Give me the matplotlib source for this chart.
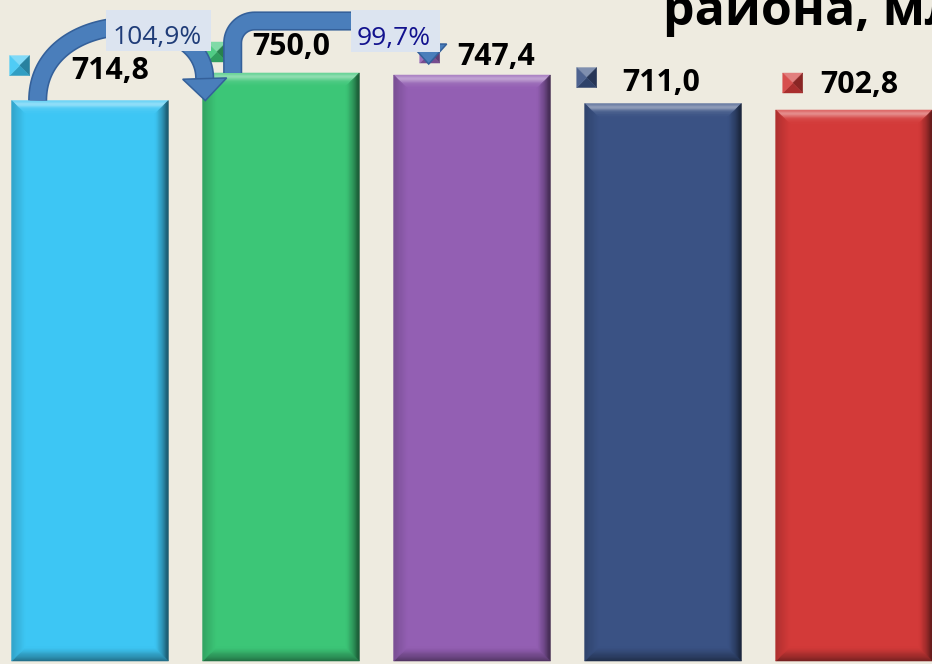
import numpy as np
import matplotlib
matplotlib.use("Agg")
from matplotlib import pyplot as plt
from matplotlib.patches import Polygon
import matplotlib.patheffects as pe
from matplotlib.colors import to_rgb

values = [714.8, 750.0, 747.4, 711.0, 702.8]
value_labels = ["714,8", "750,0", "747,4", "711,0", "702,8"]
bar_colors = ["#3DC6F4", "#3CC677", "#935FB3", "#3A5284", "#D33A39"]
growth_labels = ["104,9%", "99,7%"]
growth_colors = ["#1F3C78", "#12128E"]
title_part = "района, мл"

# label layout in pixels from the bar's top-left corner (x right, y up)
marker_off = [(8, 35), (14, 21), (36, 22), (2, 26), (17, 27)]
text_off = [(60, 22), (50, 18), (64, 10), (38, 13), (45, 17)]

BG = "#EEEBE0"
ARROW = "#4A7EBB"
ARROW_EDGE = "#34609A"
BOX = "#DCE4F0"
W, H = 932, 664

fig = plt.figure(figsize=(W / 100, H / 100), dpi=100)
fig.patch.set_facecolor(BG)
ax = fig.add_axes([0, 0, 1, 1])
ax.set_facecolor(BG)
ax.axis("off")
ax.set_xlim(-0.471, 4.408)
ax.set_ylim(-3.83, 843.1)

x = np.arange(len(values))
bars = ax.bar(x, values, width=0.82, color=bar_colors, edgecolor="none", zorder=2)


def to_px(xd, yd):
    X, Y = ax.transData.transform((xd, yd))
    return X, H - Y


def to_data(pts):
    pts = np.asarray(pts, float)
    disp = np.column_stack([pts[:, 0], H - pts[:, 1]])
    return ax.transData.inverted().transform(disp)


def mix(c, other, t):
    c = np.array(to_rgb(c))
    o = np.array(to_rgb(other))
    return tuple(np.clip(c * (1 - t) + o * t, 0, 1))


def shade(color, side, t):
    # t goes 0 (outer edge) -> 1 (inner edge of the bevel)
    if side == "top":
        glow = 0.2 + 0.3 * np.exp(-((t - 0.3) / 0.2) ** 2) - 0.2 * t
        return mix(color, "white", max(glow, 0))
    if side == "right":
        return mix(color, "black", 0.6 * (1 - t) ** 1.3)
    if side == "bottom":
        return mix(color, "black", 0.45 * (1 - t) ** 1.2)
    return mix(color, "black", 0.18 * (1 - t))


def bevel(rect, color, depth=14, steps=12):
    L, T = to_px(rect.get_x(), rect.get_height())
    R, B = to_px(rect.get_x() + rect.get_width(), 0)
    for k in range(steps):
        a = depth * k / steps
        b = depth * (k + 1) / steps
        t = (k + 0.5) / steps
        o = (L + a, T + a, R - a, B - a)
        i = (L + b, T + b, R - b, B - b)
        quads = {
            "top": [(o[0], o[1]), (o[2], o[1]), (i[2], i[1]), (i[0], i[1])],
            "right": [(o[2], o[1]), (o[2], o[3]), (i[2], i[3]), (i[2], i[1])],
            "bottom": [(o[2], o[3]), (o[0], o[3]), (i[0], i[3]), (i[2], i[3])],
            "left": [(o[0], o[3]), (o[0], o[1]), (i[0], i[1]), (i[0], i[3])],
        }
        for side, q in quads.items():
            f = shade(color, side, t)
            ax.add_patch(Polygon(to_data(q), closed=True, fc=f, ec=f, lw=0.4, zorder=3))


def marker(cx, cy, color, h=10):
    tl, tr, br, bl, c = (cx - h, cy - h), (cx + h, cy - h), (cx + h, cy + h), (cx - h, cy + h), (cx, cy)
    tris = [((tl, tr, c), mix(color, "white", 0.35)),
            ((tr, br, c), mix(color, "black", 0.35)),
            ((br, bl, c), mix(color, "black", 0.2)),
            ((bl, tl, c), mix(color, "white", 0.1))]
    for tri, f in tris:
        ax.add_patch(Polygon(to_data(tri), closed=True, fc=f, ec=f, lw=0.3, zorder=4))


def draw_arrow(body, head_w, head_len):
    body = np.asarray(body, float)
    d = body[-1] - body[-2]
    d = d / np.hypot(*d)
    n = np.array([-d[1], d[0]])
    base = body[-1]
    head = [base + n * head_w, base + d * head_len, base - n * head_w]
    xy = to_data(body)
    ax.plot(xy[:, 0], xy[:, 1], color=ARROW, lw=11.5, solid_capstyle="butt",
            solid_joinstyle="round", zorder=6,
            path_effects=[pe.Stroke(linewidth=13.8, foreground=ARROW_EDGE), pe.Normal()])
    ax.add_patch(Polygon(to_data(head), closed=True, fc=ARROW, ec=ARROW_EDGE,
                         lw=1.1, zorder=6.1))
    return base + d * head_len


def growth_box(cx, cy, w, h, label, color):
    corners = [(cx - w / 2, cy - h / 2), (cx + w / 2, cy - h / 2),
               (cx + w / 2, cy + h / 2), (cx - w / 2, cy + h / 2)]
    ax.add_patch(Polygon(to_data(corners), closed=True, fc=BOX, ec="none", zorder=7))
    tx, ty = to_data([(cx - 1.5, cy + h / 2 - 7)])[0]
    ax.text(tx, ty, label, ha="center", va="baseline", fontsize=19,
            family="Open Sans", color=color, zorder=8)


for i, rect in enumerate(bars):
    bevel(rect, bar_colors[i])
    L, T = to_px(rect.get_x(), rect.get_height())
    marker(L + marker_off[i][0], T - marker_off[i][1], bar_colors[i])
    tx, ty = to_data([(L + text_off[i][0], T - text_off[i][1])])[0]
    ax.text(tx, ty, value_labels[i], ha="left", va="baseline", fontsize=21.8,
            fontweight="bold", family="Open Sans", color="black", zorder=5)

tops = [to_px(r.get_x(), r.get_height()) for r in bars]

# arrow 1: arc from first bar over to the second one
L0, T0 = tops[0]
L1, T1 = tops[1]
p0 = np.array([L0 + 26, T0])
p3 = np.array([L1 + 2, T0 - 22])
p1 = np.array([p0[0], T0 - 95])
p2 = np.array([p3[0], T0 - 95])
t = np.linspace(0, 1, 80)[:, None]
curve = (1 - t) ** 3 * p0 + 3 * (1 - t) ** 2 * t * p1 + 3 * (1 - t) * t ** 2 * p2 + t ** 3 * p3
tip1 = draw_arrow(curve, 22, 22)

# arrow 2: elbow from second bar to the third one
L2, T2 = tops[2]
sx, ex, hy, r = L1 + 30, L2 + 35, T1 - 52, 22
ang = np.linspace(np.pi, 1.5 * np.pi, 20)
c1 = np.column_stack([sx + r + r * np.cos(ang), hy + r + r * np.sin(ang)])
ang2 = np.linspace(1.5 * np.pi, 2 * np.pi, 20)
c2 = np.column_stack([ex - r + r * np.cos(ang2), hy + r + r * np.sin(ang2)])
elbow = np.vstack([[sx, T1], c1, c2, [ex, T2 - 31]])
tip2 = draw_arrow(elbow, 18, 20)

growth_box(tip1[0] - 46.5, tip1[1] - 70.5, 105, 41, growth_labels[0], growth_colors[0])
growth_box(tip2[0] - 33.5, tip2[1] - 33, 89, 42, growth_labels[1], growth_colors[1])

fig.text(663 / W, 1 - 25 / H, title_part, fontsize=36, fontweight="bold",
         family="Open Sans", ha="left", va="baseline", color="black")

fig.savefig("out.png", dpi=100, facecolor=BG)
